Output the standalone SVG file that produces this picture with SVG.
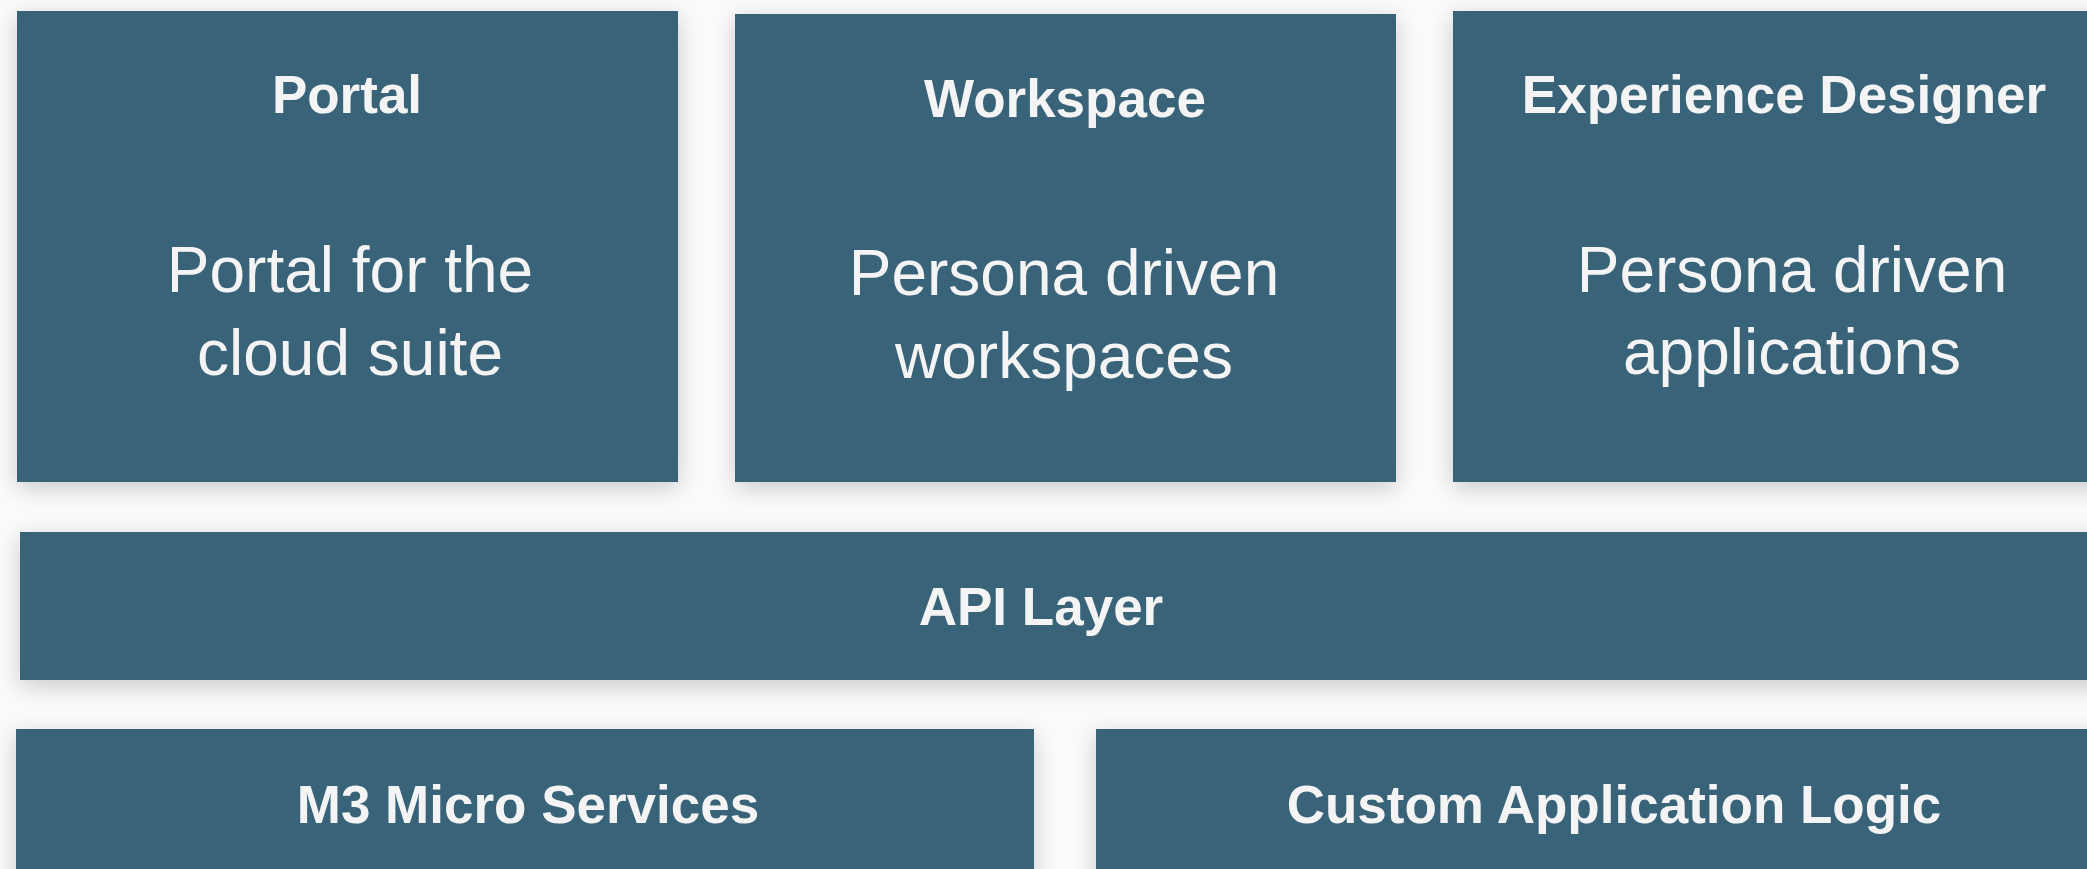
<svg xmlns="http://www.w3.org/2000/svg" width="2087" height="869" viewBox="0 0 2087 869">
  <defs>
    <filter id="shadow" x="-10%" y="-25%" width="120%" height="150%">
      <feDropShadow dx="0" dy="6" stdDeviation="12" flood-color="#000000" flood-opacity="0.2"/>
    </filter>
  </defs>
  <style>
    .box { fill: #396478; filter: url(#shadow); }
    .title { font-family: "Liberation Sans", Arial, sans-serif; font-weight: bold; font-size: 53px; fill: #f4f4f4; text-anchor: middle; }
    .body { font-family: "Liberation Sans", Arial, sans-serif; font-size: 64px; fill: #f4f4f4; text-anchor: middle; }
  </style>
  <rect width="2087" height="869" fill="#fbfbfb"/>
  <g id="connectors"></g>
  <g id="portal">
    <rect class="box" x="17" y="11" width="661" height="471"/>
    <text class="title" x="347" y="113">Portal</text>
    <text class="body" x="350" y="292">Portal for the</text>
    <text class="body" x="350" y="375">cloud suite</text>
  </g>
  <g id="workspace">
    <rect class="box" x="735" y="14" width="661" height="468"/>
    <text class="title" x="1065" y="117">Workspace</text>
    <text class="body" x="1064" y="295">Persona driven</text>
    <text class="body" x="1064" y="378">workspaces</text>
  </g>
  <g id="experience-designer">
    <rect class="box" x="1453" y="11" width="700" height="471"/>
    <text class="title" x="1784" y="113">Experience Designer</text>
    <text class="body" x="1792" y="292">Persona driven</text>
    <text class="body" x="1792" y="374">applications</text>
  </g>
  <g id="api-layer">
    <rect class="box" x="20" y="532" width="2100" height="148"/>
    <text class="title" x="1041" y="625">API Layer</text>
  </g>
  <g id="m3-micro-services">
    <rect class="box" x="16" y="729" width="1018" height="180"/>
    <text class="title" x="528" y="823">M3 Micro Services</text>
  </g>
  <g id="custom-application-logic">
    <rect class="box" x="1096" y="729" width="1040" height="180"/>
    <text class="title" x="1614" y="823">Custom Application Logic</text>
  </g>
</svg>
